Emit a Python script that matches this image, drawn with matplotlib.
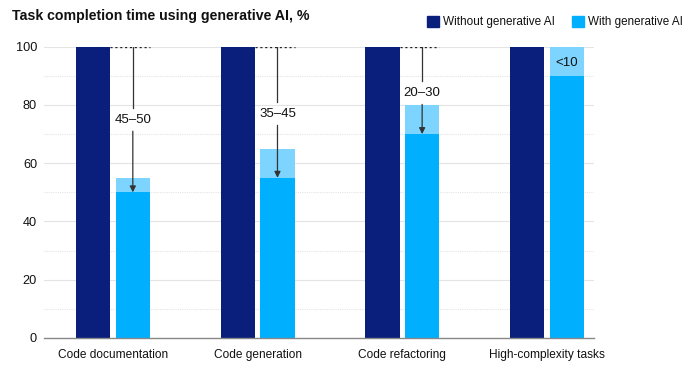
import matplotlib.pyplot as plt
import numpy as np
from matplotlib.patches import Rectangle

plt.rcParams['font.family'] = ['Liberation Sans', 'DejaVu Sans']

categories = ["Code documentation", "Code generation", "Code refactoring", "High-complexity tasks"]
without_ai = [100, 100, 100, 100]
with_ai_low = [50, 55, 70, 90]
with_ai_high = [55, 65, 80, 100]
range_labels = ["45–50", "35–45", "20–30", "<10"]
label_y = [75, 77, 84.2, 94.5]

navy = "#0a1f7c"
blue = "#00b0ff"
light = "#7dd4ff"

fig = plt.figure(figsize=(6.88, 3.69), dpi=100)
ax = fig.add_axes([44/688, 1-338/369, 550/688, (338-46.7)/369])

x = np.arange(len(categories))
w = 0.239
off = 0.137
ax.bar(x - off, without_ai, w, color=navy, zorder=3)
ax.bar(x + off, with_ai_low, w, color=blue, zorder=3)
ax.bar(x + off, np.array(with_ai_high) - np.array(with_ai_low), w, bottom=with_ai_low, color=light, zorder=3)

gap = 4.0
for i in range(len(categories)):
    if i < 3:
        xc = x[i] + off
        ax.plot([x[i] - off + w/2, x[i] + off + w/2], [100, 100], color="#222222", lw=1,
                ls=(0, (1.5, 2)), zorder=4)
        ax.plot([xc, xc], [100, label_y[i] + gap], color="#333333", lw=0.9, zorder=5)
        ax.annotate("", xy=(xc, with_ai_low[i]), xytext=(xc, label_y[i] - gap),
                    arrowprops=dict(arrowstyle="-|>", color="#333333", lw=0.9,
                                    mutation_scale=9, shrinkA=0, shrinkB=0), zorder=5)
    ax.text(x[i] + off, label_y[i], range_labels[i], ha="center", va="center",
            fontsize=9.5, color="#111111", zorder=6)

ax.set_xlim(-0.477, 3.325)
ax.set_ylim(0, 100)
ax.set_yticks([0, 20, 40, 60, 80, 100])
ax.set_yticklabels(["0", "20", "40", "60", "80", "100"])
for v in range(10, 101, 10):
    if v % 20 == 0:
        ax.axhline(v, color="#e4e4e4", lw=0.8, zorder=1)
    else:
        ax.axhline(v, color="#e4e4e4", lw=0.8, ls=(0, (1, 1)), zorder=1)
ax.set_xticks(x)
ax.set_xticklabels(categories, fontsize=8.6, color="#111111")
ax.tick_params(axis="x", length=0, pad=8)
ax.tick_params(axis="y", length=0, pad=5, labelsize=9.2, labelcolor="#111111")
for s in ["left", "right", "top"]:
    ax.spines[s].set_visible(False)
ax.spines["bottom"].set_color("#888888")
ax.spines["bottom"].set_linewidth(1)
ax.spines["bottom"].set_zorder(4)

fig.text(12/688, 1-16/369, "Task completion time using generative AI, %", fontsize=10.2,
         fontweight="bold", ha="left", va="center", color="#111111")

fig.patches.append(Rectangle((427/688, 1-27/369), 12/688, 11/369, transform=fig.transFigure,
                             color=navy, figure=fig))
fig.text(443/688, 1-21.5/369, "Without generative AI", fontsize=8.5, va="center", ha="left", color="#111111")
fig.patches.append(Rectangle((572/688, 1-27/369), 12/688, 11/369, transform=fig.transFigure,
                             color=blue, figure=fig))
fig.text(588/688, 1-21.5/369, "With generative AI", fontsize=8.4, va="center", ha="left", color="#111111")

fig.savefig("out.png", dpi=100)
